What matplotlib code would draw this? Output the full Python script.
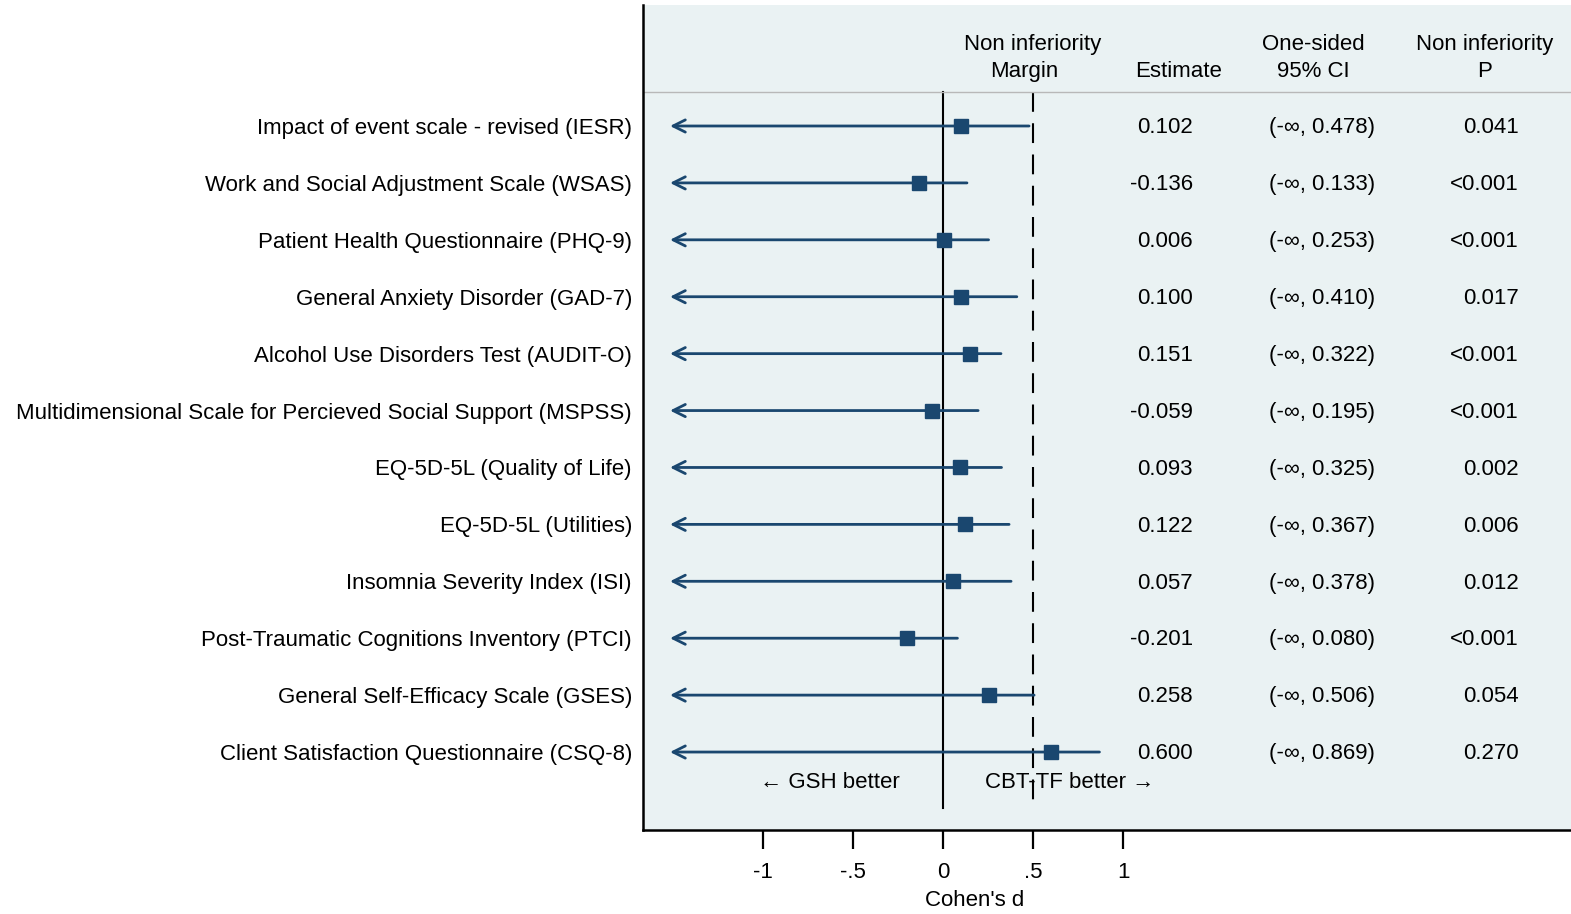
import numpy as np
import matplotlib
matplotlib.use("Agg")
import matplotlib.pyplot as plt
from matplotlib.transforms import blended_transform_factory

plt.rcParams['font.family'] = ['Liberation Sans', 'DejaVu Sans']

# outcomes, top to bottom
outcomes = [
    "Impact of event scale - revised (IESR)",
    "Work and Social Adjustment Scale (WSAS)",
    "Patient Health Questionnaire (PHQ-9)",
    "General Anxiety Disorder (GAD-7)",
    "Alcohol Use Disorders Test (AUDIT-O)",
    "Multidimensional Scale for Percieved Social Support (MSPSS)",
    "EQ-5D-5L (Quality of Life)",
    "EQ-5D-5L (Utilities)",
    "Insomnia Severity Index (ISI)",
    "Post-Traumatic Cognitions Inventory (PTCI)",
    "General Self-Efficacy Scale (GSES)",
    "Client Satisfaction Questionnaire (CSQ-8)",
]
estimate = [0.102, -0.136, 0.006, 0.100, 0.151, -0.059, 0.093, 0.122, 0.057, -0.201, 0.258, 0.600]
upper_ci = [0.478, 0.133, 0.253, 0.410, 0.322, 0.195, 0.325, 0.367, 0.378, 0.080, 0.506, 0.869]
p_values = ["0.041", "<0.001", "<0.001", "0.017", "<0.001", "<0.001", "0.002", "0.006", "0.012", "<0.001", "0.054", "0.270"]
margin = 0.5
xticks = [-1, -0.5, 0, 0.5, 1]
xtick_labels = ["-1", "-.5", "0", ".5", "1"]

navy = "#1a476f"
bg = "#eaf2f3"
fs = 16

fig = plt.figure(figsize=(15.71, 9.14), dpi=100)
ax = fig.add_axes([643 / 1571, 1 - 830 / 914, 1 - 643 / 1571, (830 - 5) / 914])
ax.set_facecolor(bg)

x_left = -1.667
x_right = 3.489
arrow_end = -1.517
ax.set_xlim(x_left, x_right)
ax.set_ylim(13.37, -1.126)

rows = np.arange(1, len(outcomes) + 1)

# reference lines
ax.plot([0, 0], [0.40, 12.99], color="black", lw=1.5)
ax.plot([margin, margin], [0.40, 12.99], color="black", lw=1.5, dashes=(9.5, 5.5))
# header separator
ax.axhline(0.40, color="#b8b8b8", lw=1.0)

for y, est, up in zip(rows, estimate, upper_ci):
    ax.annotate("", xy=(arrow_end, y), xytext=(up, y),
                arrowprops=dict(arrowstyle="->", color=navy, lw=2.0,
                                mutation_scale=22, shrinkA=0, shrinkB=0))
    ax.plot(est, y, marker="s", color=navy, markersize=10, zorder=5)

# table columns
for y, est, up, p in zip(rows, estimate, upper_ci, p_values):
    ax.text(1.389, y + 0.03, f"{est:.3f}", ha="right", va="center", fontsize=fs)
    ax.text(2.106, y + 0.03, f"(-\u221e, {up:.3f})", ha="center", va="center", fontsize=fs)
    ax.text(3.20, y + 0.03, p, ha="right", va="center", fontsize=fs)

# headers
ax.text(0.5, -0.44, "Non inferiority", ha="center", va="center", fontsize=fs)
ax.text(0.45, 0.04, "Margin", ha="center", va="center", fontsize=fs)
ax.text(1.306, 0.04, "Estimate", ha="center", va="center", fontsize=fs)
ax.text(2.056, -0.44, "One-sided", ha="center", va="center", fontsize=fs)
ax.text(2.056, 0.04, "95% CI", ha="center", va="center", fontsize=fs)
ax.text(3.01, -0.44, "Non inferiority", ha="center", va="center", fontsize=fs)
ax.text(3.01, 0.04, "P", ha="center", va="center", fontsize=fs)

ax.text(-0.63, 12.53, "\u2190 GSH better", ha="center", va="center", fontsize=fs)
ax.text(0.705, 12.53, "CBT-TF better \u2192", ha="center", va="center", fontsize=fs)

# axes styling
ax.set_yticks(rows)
ax.set_yticklabels(outcomes, fontsize=fs)
ax.tick_params(axis="y", length=0, pad=8)
ax.set_xticks(xticks)
ax.set_xticklabels(xtick_labels, fontsize=fs)
ax.tick_params(axis="x", length=14, width=1.6, pad=9, direction="out")
for side in ["top", "right"]:
    ax.spines[side].set_visible(False)
ax.spines["left"].set_linewidth(1.8)
ax.spines["bottom"].set_linewidth(1.8)

trans = blended_transform_factory(ax.transData, fig.transFigure)
ax.text(0.178, 1 - 901 / 914, "Cohen's d", ha="center", va="center", fontsize=fs,
        transform=trans)

fig.savefig("out.png", dpi=100, facecolor="white")
